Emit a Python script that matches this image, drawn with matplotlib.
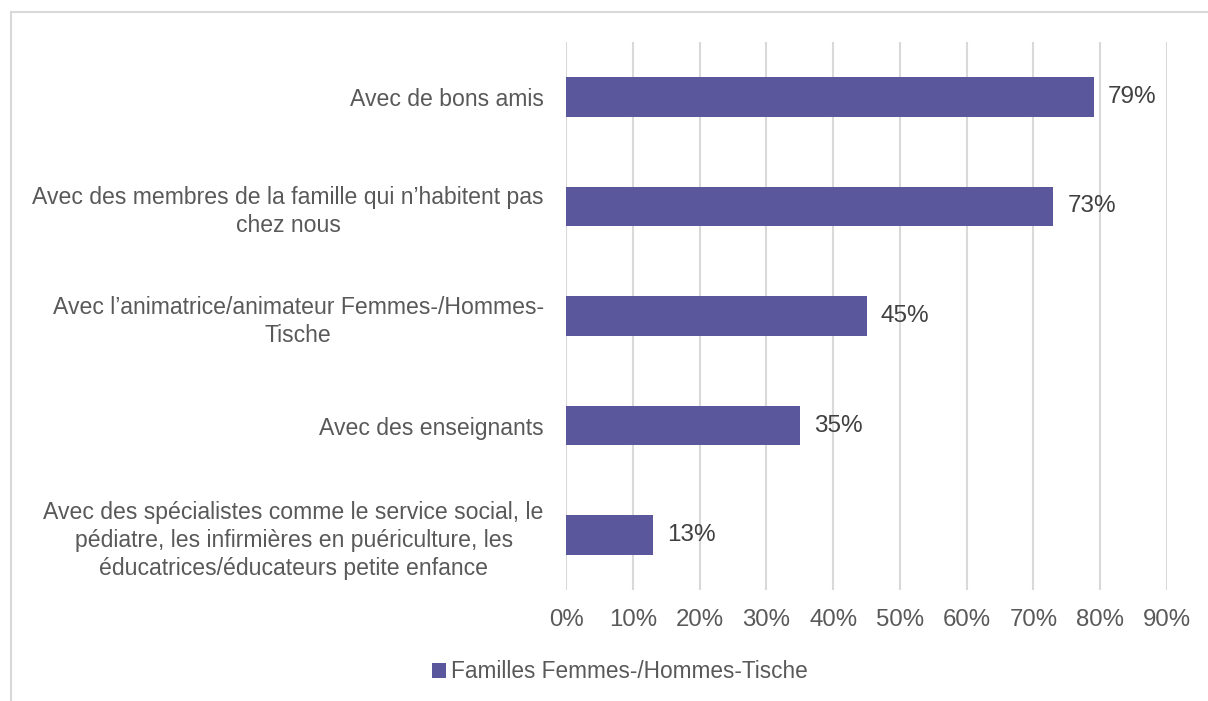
import matplotlib.pyplot as plt
from matplotlib import font_manager
from matplotlib.lines import Line2D
from matplotlib.patches import Patch

categories = [
    "Avec de bons amis",
    "Avec des membres de la famille qui n\u2019habitent pas\nchez nous",
    "Avec l\u2019animatrice/animateur Femmes-/Hommes-\nTische",
    "Avec des enseignants",
    "Avec des sp\u00e9cialistes comme le service social, le\np\u00e9diatre, les infirmi\u00e8res en pu\u00e9riculture, les\n\u00e9ducatrices/\u00e9ducateurs petite enfance",
]
values = [79, 73, 45, 35, 13]
series_name = "Familles Femmes-/Hommes-Tische"
xticks = [0, 10, 20, 30, 40, 50, 60, 70, 80, 90]

names = {f.name for f in font_manager.fontManager.ttflist}
family = "Liberation Sans Narrow" if "Liberation Sans Narrow" in names else "Liberation Sans"
plt.rcParams['font.family'] = [family, 'DejaVu Sans']

bar_color = '#5B579D'
text_color = '#595959'

fig = plt.figure(figsize=(12.08, 7.01), dpi=100)
ax = fig.add_axes([566 / 1208, 1 - 590 / 701, (1167 - 566) / 1208, (590 - 42) / 701])

y = list(range(len(categories)))
ax.barh(y, values, height=0.36, color=bar_color, zorder=3)
ax.set_ylim(len(categories) - 0.5, -0.5)
ax.set_xlim(0, 90)
ax.set_xticks(xticks)
ax.set_xticklabels([f"{t}%" for t in xticks])
ax.set_yticks(y)
ax.set_yticklabels(categories, ha='right', fontsize=16.6, color=text_color, linespacing=1.3)
for lab in ax.get_yticklabels():
    lab.set_multialignment('center')

for yi, v in zip(y, values):
    ax.text(v + 2.1, yi, f"{v}%", va='center', ha='left', fontsize=17.5, color='#404040')

ax.grid(axis='x', color='#d9d9d9', linewidth=1.5, zorder=0)
for s in ax.spines.values():
    s.set_visible(False)
ax.tick_params(axis='x', length=0, pad=14, labelsize=17.3, labelcolor=text_color)
ax.tick_params(axis='y', length=0, pad=16)

handle = Patch(facecolor=bar_color, edgecolor='none')
fig.legend([handle], [series_name], loc='center', bbox_to_anchor=(620 / 1208, 1 - 672 / 701),
           frameon=False, fontsize=16.3, handlelength=0.6, handleheight=0.6, handletextpad=0.25,
           labelcolor=text_color)

# outer chart frame
fig.add_artist(Line2D([11 / 1208, 1], [1 - 12 / 701, 1 - 12 / 701], color='#d9d9d9', linewidth=1.5))
fig.add_artist(Line2D([11 / 1208, 11 / 1208], [0, 1 - 12 / 701], color='#d9d9d9', linewidth=1.5))

fig.savefig('out.png', dpi=100)
